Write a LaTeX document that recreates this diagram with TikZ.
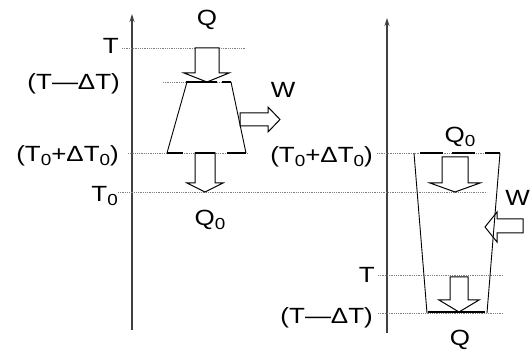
\documentclass[tikz,border=0pt]{standalone}
\usepackage{fontspec}
\usepackage{graphicx}
\setmainfont{Liberation Sans}
\usetikzlibrary{arrows.meta}
\newcommand\zsub{\raisebox{-0.35ex}{\fontsize{16}{16}\selectfont 0}}
\newcommand\widetxt[1]{\scalebox{1.18}[1]{#1}}
\tikzset{
  lbl/.style={font=\fontsize{22}{22}\selectfont, inner sep=0pt},
  axisline/.style={line width=1.1pt, draw=black!75, -{Stealth[length=8pt,width=5pt]}},
  dotl/.style={draw=black!50, line width=0.8pt, dash pattern=on 0.9pt off 0.9pt},
  sideline/.style={draw=black, line width=0.9pt},
  rim/.style={draw=black, line width=2.2pt},
  hollow/.style={draw=black, line width=1pt, fill=white, line join=miter},
}
\begin{document}
\begin{tikzpicture}[x=1pt,y=-1pt]
\useasboundingbox (0,0) rectangle (531,350);
\begin{scope}
\clip (0,0) rectangle (531,350);
% axes
\coordinate (la0) at (132,330); \coordinate (la1) at (132,14);
\coordinate (ra0) at (387,333); \coordinate (ra1) at (387,18);
\draw[axisline] (la0) -- (la1);
\draw[axisline] (ra0) -- (ra1);
% dotted levels, left
\draw[dotl] (122,48) -- (245,48);
\draw[dotl] (163,82) -- (231,82);
\draw[dotl] (128,153) -- (247,153);
\draw[dotl] (118,192) -- (487,192);
% dotted levels, right
\draw[dotl] (377,153) -- (500,153);
\draw[dotl] (378,275) -- (503,275);
\draw[dotl] (378,313) -- (503,313);
% hollow arrows, left
\draw[hollow] (195,48) -- (219,48) -- (219,73) -- (229,73) -- (207,82) -- (184,73) -- (195,73) -- cycle;
\draw[hollow] (195,153) -- (215,153) -- (215,183) -- (223,183) -- (205,192) -- (187,183) -- (195,183) -- cycle;
\draw[hollow] (240,113) -- (268,113) -- (268,107) -- (280,119.5) -- (268,132) -- (268,126) -- (240,126) -- cycle;
% hollow arrows, right
\draw[hollow] (442,157) -- (468,157) -- (468,183) -- (480,183) -- (455,192) -- (430,183) -- (442,183) -- cycle;
\draw[hollow] (450,277) -- (468,277) -- (468,300) -- (479,300) -- (459,312) -- (439,300) -- (450,300) -- cycle;
\draw[hollow] (523,219) -- (497,219) -- (497,212) -- (485,227) -- (497,242) -- (497,233) -- (523,233) -- cycle;
% trapezoid sides
\draw[sideline] (187,82) -- (167,153);
\draw[sideline] (231,82) -- (246,153);
\draw[sideline] (414,153) -- (427,313);
\draw[sideline] (500,153) -- (487,313);
% thick rims
\draw[rim] (186,82) -- (217,82);
\draw[rim] (222,82) -- (231,82);
\draw[rim] (167,153) -- (183,153);
\draw[rim] (195,153) -- (215,153);
\draw[rim] (227,153) -- (246,153);
\draw[rim] (420,153) -- (443,153);
\draw[rim] (452,153) -- (475,153);
\draw[rim] (485,153) -- (500,153);
\draw[rim] (428,312) -- (485,312);
% labels, left
\node[lbl] (qa) at (207,20) {\widetxt{Q}};
\node[lbl, anchor=east] (ta) at (119,46) {\widetxt{T}};
\node[lbl, anchor=east] (tda) at (120,84) {\widetxt{(T—ΔT)}};
\node[lbl, anchor=east] (t0da) at (119,156) {\widetxt{(T\zsub+ΔT\zsub)}};
\node[lbl, anchor=east] (t0a) at (118,196) {\widetxt{T\zsub}};
\node[lbl] (q0a) at (210,220) {\widetxt{Q\zsub}};
\node[lbl] (wa) at (283,90) {\widetxt{W}};
% labels, right
\node[lbl] (q0b) at (460,137) {\widetxt{Q\zsub}};
\node[lbl, anchor=east] (t0db) at (373,157) {\widetxt{(T\zsub+ΔT\zsub)}};
\node[lbl, anchor=east] (tb) at (375,275) {\widetxt{T}};
\node[lbl, anchor=east] (tdb) at (373,318) {\widetxt{(T—ΔT)}};
\node[lbl] (qb) at (460,340) {\widetxt{Q}};
\node[lbl, anchor=east] (wb) at (530,198) {\widetxt{W}};
\end{scope}
\end{tikzpicture}
\end{document}
